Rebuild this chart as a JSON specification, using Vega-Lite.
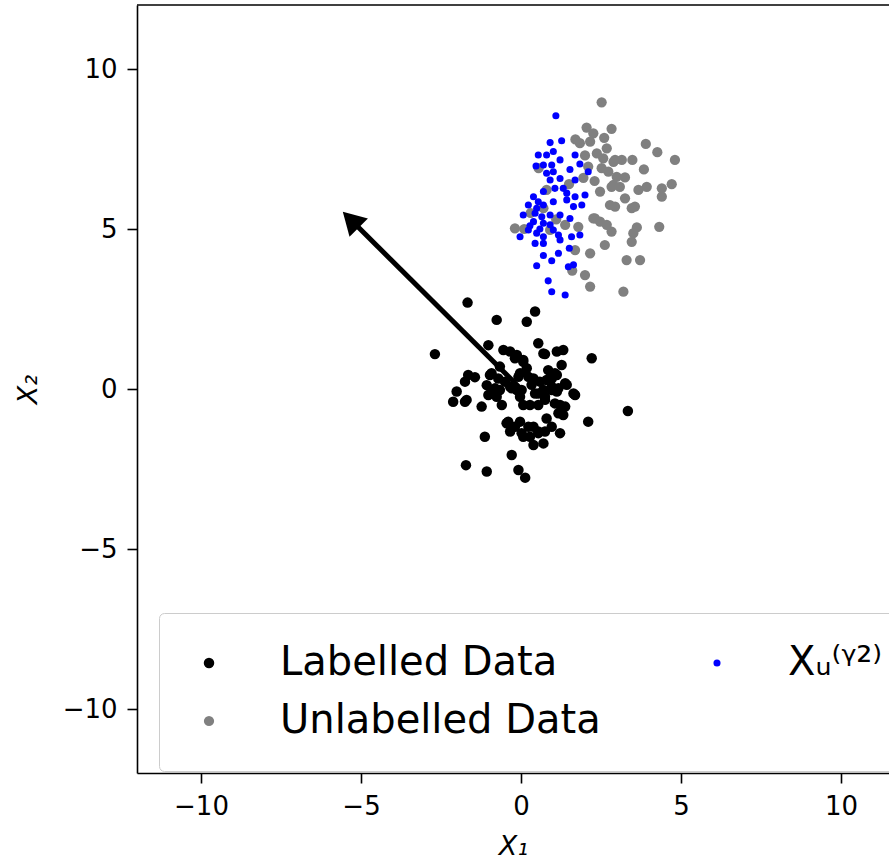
{
  "$schema": "https://vega.github.io/schema/vega-lite/v6.json",
  "width": 752,
  "height": 768,
  "autosize": {"type": "none"},
  "padding": {"left": 137, "top": 5, "right": 0, "bottom": 89},
  "background": "white",
  "config": {
    "view": {"stroke": null},
    "font": "DejaVu Sans",
    "axis": {
      "grid": false,
      "domainColor": "black",
      "domainWidth": 1.6,
      "tickColor": "black",
      "tickWidth": 1.6,
      "tickSize": 10,
      "labelPadding": 10,
      "labelFontSize": 26,
      "labelColor": "black",
      "labelFont": "DejaVu Sans",
      "titleFont": "DejaVu Sans",
      "titleFontSize": 27,
      "titleFontWeight": "normal",
      "titleFontStyle": "italic",
      "titleColor": "black"
    }
  },
  "datasets": {
    "points": [
      {"set": "Labelled Data", "x1": -1.67, "x2": 2.70},
      {"set": "Labelled Data", "x1": -0.76, "x2": 2.16},
      {"set": "Labelled Data", "x1": 0.44, "x2": 2.42},
      {"set": "Labelled Data", "x1": 0.18, "x2": 2.10},
      {"set": "Labelled Data", "x1": -2.69, "x2": 1.09},
      {"set": "Labelled Data", "x1": 2.21, "x2": 0.96},
      {"set": "Labelled Data", "x1": -1.02, "x2": 1.37},
      {"set": "Labelled Data", "x1": 0.54, "x2": 1.43},
      {"set": "Labelled Data", "x1": -0.55, "x2": 1.22},
      {"set": "Labelled Data", "x1": -0.34, "x2": 1.17},
      {"set": "Labelled Data", "x1": -0.13, "x2": 1.06},
      {"set": "Labelled Data", "x1": 0.75, "x2": 1.09},
      {"set": "Labelled Data", "x1": 1.12, "x2": 1.17},
      {"set": "Labelled Data", "x1": 1.32, "x2": 1.22},
      {"set": "Labelled Data", "x1": 1.27, "x2": 0.75},
      {"set": "Labelled Data", "x1": 0.07, "x2": 0.85},
      {"set": "Labelled Data", "x1": 0.18, "x2": 0.65},
      {"set": "Labelled Data", "x1": 0.85, "x2": 0.59},
      {"set": "Labelled Data", "x1": 1.06, "x2": 0.49},
      {"set": "Labelled Data", "x1": -0.92, "x2": 0.49},
      {"set": "Labelled Data", "x1": -0.66, "x2": 0.70},
      {"set": "Labelled Data", "x1": -1.65, "x2": 0.44},
      {"set": "Labelled Data", "x1": -1.44, "x2": 0.37},
      {"set": "Labelled Data", "x1": -1.75, "x2": 0.23},
      {"set": "Labelled Data", "x1": -0.03, "x2": 0.49},
      {"set": "Labelled Data", "x1": 0.39, "x2": 0.33},
      {"set": "Labelled Data", "x1": 0.59, "x2": 0.23},
      {"set": "Labelled Data", "x1": 0.80, "x2": 0.28},
      {"set": "Labelled Data", "x1": 1.43, "x2": 0.13},
      {"set": "Labelled Data", "x1": 1.69, "x2": -0.19},
      {"set": "Labelled Data", "x1": -1.07, "x2": 0.12},
      {"set": "Labelled Data", "x1": -0.92, "x2": -0.03},
      {"set": "Labelled Data", "x1": -1.02, "x2": -0.19},
      {"set": "Labelled Data", "x1": -0.66, "x2": -0.03},
      {"set": "Labelled Data", "x1": -0.76, "x2": -0.24},
      {"set": "Labelled Data", "x1": -0.60, "x2": -0.50},
      {"set": "Labelled Data", "x1": -0.34, "x2": 0.07},
      {"set": "Labelled Data", "x1": -0.13, "x2": -0.03},
      {"set": "Labelled Data", "x1": -0.03, "x2": -0.24},
      {"set": "Labelled Data", "x1": -2.01, "x2": -0.08},
      {"set": "Labelled Data", "x1": -2.12, "x2": -0.40},
      {"set": "Labelled Data", "x1": -1.75, "x2": -0.40},
      {"set": "Labelled Data", "x1": -1.23, "x2": -0.55},
      {"set": "Labelled Data", "x1": 0.07, "x2": -0.50},
      {"set": "Labelled Data", "x1": 0.28, "x2": -0.50},
      {"set": "Labelled Data", "x1": 0.54, "x2": -0.14},
      {"set": "Labelled Data", "x1": 0.75, "x2": -0.24},
      {"set": "Labelled Data", "x1": 0.70, "x2": -0.03},
      {"set": "Labelled Data", "x1": 0.96, "x2": 0.07},
      {"set": "Labelled Data", "x1": 1.12, "x2": -0.08},
      {"set": "Labelled Data", "x1": 1.22, "x2": -0.50},
      {"set": "Labelled Data", "x1": 1.17, "x2": -0.76},
      {"set": "Labelled Data", "x1": 1.32, "x2": -0.81},
      {"set": "Labelled Data", "x1": 2.10, "x2": -1.02},
      {"set": "Labelled Data", "x1": 0.80, "x2": -0.92},
      {"set": "Labelled Data", "x1": -0.45, "x2": -1.07},
      {"set": "Labelled Data", "x1": -0.34, "x2": -1.33},
      {"set": "Labelled Data", "x1": -0.03, "x2": -1.02},
      {"set": "Labelled Data", "x1": 0.07, "x2": -1.49},
      {"set": "Labelled Data", "x1": 0.39, "x2": -1.18},
      {"set": "Labelled Data", "x1": 0.54, "x2": -1.38},
      {"set": "Labelled Data", "x1": 0.75, "x2": -1.33},
      {"set": "Labelled Data", "x1": 0.39, "x2": -1.75},
      {"set": "Labelled Data", "x1": 0.70, "x2": -1.70},
      {"set": "Labelled Data", "x1": 1.22, "x2": -1.38},
      {"set": "Labelled Data", "x1": -1.13, "x2": -1.49},
      {"set": "Labelled Data", "x1": -0.29, "x2": -2.06},
      {"set": "Labelled Data", "x1": -1.72, "x2": -2.38},
      {"set": "Labelled Data", "x1": -1.07, "x2": -2.58},
      {"set": "Labelled Data", "x1": -0.08, "x2": -2.53},
      {"set": "Labelled Data", "x1": 0.13, "x2": -2.77},
      {"set": "Labelled Data", "x1": 3.34, "x2": -0.69},
      {"set": "Labelled Data", "x1": 0.70, "x2": 1.11},
      {"set": "Labelled Data", "x1": -0.19, "x2": 0.96},
      {"set": "Labelled Data", "x1": 0.07, "x2": 0.91},
      {"set": "Labelled Data", "x1": -0.97, "x2": 0.44},
      {"set": "Labelled Data", "x1": -0.71, "x2": 0.33},
      {"set": "Labelled Data", "x1": -0.50, "x2": 0.23},
      {"set": "Labelled Data", "x1": -0.08, "x2": 0.38},
      {"set": "Labelled Data", "x1": 0.23, "x2": 0.38},
      {"set": "Labelled Data", "x1": 0.96, "x2": 0.33},
      {"set": "Labelled Data", "x1": 1.12, "x2": 0.44},
      {"set": "Labelled Data", "x1": 1.38, "x2": 0.18},
      {"set": "Labelled Data", "x1": -0.81, "x2": 0.02},
      {"set": "Labelled Data", "x1": -0.29, "x2": 0.02},
      {"set": "Labelled Data", "x1": 0.02, "x2": -0.03},
      {"set": "Labelled Data", "x1": 0.33, "x2": 0.13},
      {"set": "Labelled Data", "x1": 0.44, "x2": -0.14},
      {"set": "Labelled Data", "x1": 0.96, "x2": -0.03},
      {"set": "Labelled Data", "x1": 1.17, "x2": 0.02},
      {"set": "Labelled Data", "x1": 1.64, "x2": -0.14},
      {"set": "Labelled Data", "x1": -1.70, "x2": -0.34},
      {"set": "Labelled Data", "x1": 0.54, "x2": -0.50},
      {"set": "Labelled Data", "x1": 0.75, "x2": -0.34},
      {"set": "Labelled Data", "x1": 1.06, "x2": -0.45},
      {"set": "Labelled Data", "x1": 1.38, "x2": -0.55},
      {"set": "Labelled Data", "x1": -0.40, "x2": -1.02},
      {"set": "Labelled Data", "x1": -0.19, "x2": -1.18},
      {"set": "Labelled Data", "x1": 0.23, "x2": -1.18},
      {"set": "Labelled Data", "x1": 0.96, "x2": -1.18},
      {"set": "Labelled Data", "x1": 0.02, "x2": -1.38},
      {"set": "Labelled Data", "x1": 0.28, "x2": -1.49},
      {"set": "Labelled Data", "x1": 0.54, "x2": -1.33},

      {"set": "Unlabelled Data", "x1": 2.52, "x2": 8.96},
      {"set": "Unlabelled Data", "x1": 2.05, "x2": 8.17},
      {"set": "Unlabelled Data", "x1": 2.26, "x2": 7.99},
      {"set": "Unlabelled Data", "x1": 2.83, "x2": 8.13},
      {"set": "Unlabelled Data", "x1": 1.84, "x2": 7.68},
      {"set": "Unlabelled Data", "x1": 2.16, "x2": 7.73},
      {"set": "Unlabelled Data", "x1": 2.37, "x2": 7.36},
      {"set": "Unlabelled Data", "x1": 2.68, "x2": 7.52},
      {"set": "Unlabelled Data", "x1": 2.94, "x2": 7.16},
      {"set": "Unlabelled Data", "x1": 3.15, "x2": 7.16},
      {"set": "Unlabelled Data", "x1": 3.90, "x2": 7.66},
      {"set": "Unlabelled Data", "x1": 4.26, "x2": 7.40},
      {"set": "Unlabelled Data", "x1": 4.81, "x2": 7.16},
      {"set": "Unlabelled Data", "x1": 3.48, "x2": 7.16},
      {"set": "Unlabelled Data", "x1": 3.84, "x2": 6.86},
      {"set": "Unlabelled Data", "x1": 2.52, "x2": 6.90},
      {"set": "Unlabelled Data", "x1": 2.73, "x2": 6.79},
      {"set": "Unlabelled Data", "x1": 2.99, "x2": 6.63},
      {"set": "Unlabelled Data", "x1": 3.25, "x2": 6.61},
      {"set": "Unlabelled Data", "x1": 2.89, "x2": 6.38},
      {"set": "Unlabelled Data", "x1": 2.47, "x2": 6.17},
      {"set": "Unlabelled Data", "x1": 3.67, "x2": 6.22},
      {"set": "Unlabelled Data", "x1": 3.93, "x2": 6.32},
      {"set": "Unlabelled Data", "x1": 4.40, "x2": 6.27},
      {"set": "Unlabelled Data", "x1": 4.71, "x2": 6.40},
      {"set": "Unlabelled Data", "x1": 4.40, "x2": 6.01},
      {"set": "Unlabelled Data", "x1": 3.25, "x2": 5.96},
      {"set": "Unlabelled Data", "x1": 2.78, "x2": 5.75},
      {"set": "Unlabelled Data", "x1": 2.94, "x2": 5.70},
      {"set": "Unlabelled Data", "x1": 3.46, "x2": 5.65},
      {"set": "Unlabelled Data", "x1": 3.56, "x2": 5.70},
      {"set": "Unlabelled Data", "x1": 2.31, "x2": 5.33},
      {"set": "Unlabelled Data", "x1": 2.47, "x2": 5.23},
      {"set": "Unlabelled Data", "x1": 2.68, "x2": 5.13},
      {"set": "Unlabelled Data", "x1": 2.83, "x2": 4.92},
      {"set": "Unlabelled Data", "x1": 3.62, "x2": 5.05},
      {"set": "Unlabelled Data", "x1": 3.51, "x2": 4.87},
      {"set": "Unlabelled Data", "x1": 3.46, "x2": 4.60},
      {"set": "Unlabelled Data", "x1": 4.32, "x2": 5.07},
      {"set": "Unlabelled Data", "x1": 2.62, "x2": 4.50},
      {"set": "Unlabelled Data", "x1": 2.16, "x2": 4.24},
      {"set": "Unlabelled Data", "x1": 3.30, "x2": 4.03},
      {"set": "Unlabelled Data", "x1": 3.72, "x2": 4.03},
      {"set": "Unlabelled Data", "x1": 2.00, "x2": 3.56},
      {"set": "Unlabelled Data", "x1": 2.16, "x2": 3.20},
      {"set": "Unlabelled Data", "x1": 3.20, "x2": 3.04},
      {"set": "Unlabelled Data", "x1": -0.19, "x2": 5.02},
      {"set": "Unlabelled Data", "x1": 1.79, "x2": 5.07},
      {"set": "Unlabelled Data", "x1": 0.80, "x2": 6.22},
      {"set": "Unlabelled Data", "x1": 0.91, "x2": 4.97},
      {"set": "Unlabelled Data", "x1": 1.38, "x2": 5.13},
      {"set": "Unlabelled Data", "x1": 2.57, "x2": 7.21},
      {"set": "Unlabelled Data", "x1": 2.89, "x2": 7.10},
      {"set": "Unlabelled Data", "x1": 2.83, "x2": 6.32},
      {"set": "Unlabelled Data", "x1": 3.09, "x2": 6.32},
      {"set": "Unlabelled Data", "x1": 2.10, "x2": 6.95},
      {"set": "Unlabelled Data", "x1": 1.95, "x2": 6.60},
      {"set": "Unlabelled Data", "x1": 2.00, "x2": 7.30},
      {"set": "Unlabelled Data", "x1": 1.70, "x2": 7.80},
      {"set": "Unlabelled Data", "x1": 2.60, "x2": 7.85},
      {"set": "Unlabelled Data", "x1": 0.10, "x2": 5.00},
      {"set": "Unlabelled Data", "x1": 1.60, "x2": 3.70},
      {"set": "Unlabelled Data", "x1": 2.30, "x2": 6.50},
      {"set": "Unlabelled Data", "x1": 2.26, "x2": 5.33},
      {"set": "Unlabelled Data", "x1": 1.69, "x2": 4.34},
      {"set": "Unlabelled Data", "x1": 0.55, "x2": 6.90},
      {"set": "Unlabelled Data", "x1": 1.10, "x2": 5.30},
      {"set": "Unlabelled Data", "x1": 0.30, "x2": 5.50},
      {"set": "Unlabelled Data", "x1": 1.50, "x2": 6.40},
      {"set": "Unlabelled Data", "x1": 0.70, "x2": 5.65},

      {"set": "Xᵤ⁽ᵞ²⁾", "x1": 1.09, "x2": 8.54},
      {"set": "Xᵤ⁽ᵞ²⁾", "x1": 0.91, "x2": 7.70},
      {"set": "Xᵤ⁽ᵞ²⁾", "x1": 1.27, "x2": 7.76},
      {"set": "Xᵤ⁽ᵞ²⁾", "x1": 0.54, "x2": 7.31},
      {"set": "Xᵤ⁽ᵞ²⁾", "x1": 0.80, "x2": 7.31},
      {"set": "Xᵤ⁽ᵞ²⁾", "x1": 1.01, "x2": 7.42},
      {"set": "Xᵤ⁽ᵞ²⁾", "x1": 0.47, "x2": 6.97},
      {"set": "Xᵤ⁽ᵞ²⁾", "x1": 0.70, "x2": 7.00},
      {"set": "Xᵤ⁽ᵞ²⁾", "x1": 1.22, "x2": 7.16},
      {"set": "Xᵤ⁽ᵞ²⁾", "x1": 1.69, "x2": 7.31},
      {"set": "Xᵤ⁽ᵞ²⁾", "x1": 1.53, "x2": 6.86},
      {"set": "Xᵤ⁽ᵞ²⁾", "x1": 1.84, "x2": 7.03},
      {"set": "Xᵤ⁽ᵞ²⁾", "x1": 2.10, "x2": 6.79},
      {"set": "Xᵤ⁽ᵞ²⁾", "x1": 0.80, "x2": 6.74},
      {"set": "Xᵤ⁽ᵞ²⁾", "x1": 1.01, "x2": 6.79},
      {"set": "Xᵤ⁽ᵞ²⁾", "x1": 1.22, "x2": 6.58},
      {"set": "Xᵤ⁽ᵞ²⁾", "x1": 0.91, "x2": 6.53},
      {"set": "Xᵤ⁽ᵞ²⁾", "x1": 1.69, "x2": 6.53},
      {"set": "Xᵤ⁽ᵞ²⁾", "x1": 1.06, "x2": 6.27},
      {"set": "Xᵤ⁽ᵞ²⁾", "x1": 1.32, "x2": 6.27},
      {"set": "Xᵤ⁽ᵞ²⁾", "x1": 1.43, "x2": 6.12},
      {"set": "Xᵤ⁽ᵞ²⁾", "x1": 0.39, "x2": 6.01},
      {"set": "Xᵤ⁽ᵞ²⁾", "x1": 0.54, "x2": 5.85},
      {"set": "Xᵤ⁽ᵞ²⁾", "x1": 0.23, "x2": 5.75},
      {"set": "Xᵤ⁽ᵞ²⁾", "x1": 0.70, "x2": 5.75},
      {"set": "Xᵤ⁽ᵞ²⁾", "x1": 1.01, "x2": 5.85},
      {"set": "Xᵤ⁽ᵞ²⁾", "x1": 1.43, "x2": 5.91},
      {"set": "Xᵤ⁽ᵞ²⁾", "x1": 1.69, "x2": 6.01},
      {"set": "Xᵤ⁽ᵞ²⁾", "x1": 2.00, "x2": 6.06},
      {"set": "Xᵤ⁽ᵞ²⁾", "x1": 1.90, "x2": 5.75},
      {"set": "Xᵤ⁽ᵞ²⁾", "x1": 1.64, "x2": 5.70},
      {"set": "Xᵤ⁽ᵞ²⁾", "x1": 0.07, "x2": 5.44},
      {"set": "Xᵤ⁽ᵞ²⁾", "x1": 0.44, "x2": 5.49},
      {"set": "Xᵤ⁽ᵞ²⁾", "x1": 0.65, "x2": 5.38},
      {"set": "Xᵤ⁽ᵞ²⁾", "x1": 0.91, "x2": 5.44},
      {"set": "Xᵤ⁽ᵞ²⁾", "x1": 1.22, "x2": 5.44},
      {"set": "Xᵤ⁽ᵞ²⁾", "x1": 1.53, "x2": 5.33},
      {"set": "Xᵤ⁽ᵞ²⁾", "x1": 0.39, "x2": 5.23},
      {"set": "Xᵤ⁽ᵞ²⁾", "x1": 0.70, "x2": 5.18},
      {"set": "Xᵤ⁽ᵞ²⁾", "x1": -0.03, "x2": 4.76},
      {"set": "Xᵤ⁽ᵞ²⁾", "x1": 0.23, "x2": 4.97},
      {"set": "Xᵤ⁽ᵞ²⁾", "x1": 0.49, "x2": 4.87},
      {"set": "Xᵤ⁽ᵞ²⁾", "x1": 0.70, "x2": 4.76},
      {"set": "Xᵤ⁽ᵞ²⁾", "x1": 1.01, "x2": 4.97},
      {"set": "Xᵤ⁽ᵞ²⁾", "x1": 1.17, "x2": 4.81},
      {"set": "Xᵤ⁽ᵞ²⁾", "x1": 1.58, "x2": 4.76},
      {"set": "Xᵤ⁽ᵞ²⁾", "x1": 1.84, "x2": 4.81},
      {"set": "Xᵤ⁽ᵞ²⁾", "x1": 0.44, "x2": 4.55},
      {"set": "Xᵤ⁽ᵞ²⁾", "x1": 0.70, "x2": 4.55},
      {"set": "Xᵤ⁽ᵞ²⁾", "x1": 1.22, "x2": 4.66},
      {"set": "Xᵤ⁽ᵞ²⁾", "x1": 1.51, "x2": 4.40},
      {"set": "Xᵤ⁽ᵞ²⁾", "x1": 0.70, "x2": 4.17},
      {"set": "Xᵤ⁽ᵞ²⁾", "x1": 1.17, "x2": 4.24},
      {"set": "Xᵤ⁽ᵞ²⁾", "x1": 0.96, "x2": 4.01},
      {"set": "Xᵤ⁽ᵞ²⁾", "x1": 0.49, "x2": 3.85},
      {"set": "Xᵤ⁽ᵞ²⁾", "x1": 1.48, "x2": 3.82},
      {"set": "Xᵤ⁽ᵞ²⁾", "x1": 1.64, "x2": 3.88},
      {"set": "Xᵤ⁽ᵞ²⁾", "x1": 0.85, "x2": 3.38},
      {"set": "Xᵤ⁽ᵞ²⁾", "x1": 0.96, "x2": 3.04},
      {"set": "Xᵤ⁽ᵞ²⁾", "x1": 1.38, "x2": 2.94},
      {"set": "Xᵤ⁽ᵞ²⁾", "x1": 0.96, "x2": 7.00},
      {"set": "Xᵤ⁽ᵞ²⁾", "x1": 0.70, "x2": 6.17},
      {"set": "Xᵤ⁽ᵞ²⁾", "x1": 0.49, "x2": 5.65},
      {"set": "Xᵤ⁽ᵞ²⁾", "x1": 0.91, "x2": 5.13},
      {"set": "Xᵤ⁽ᵞ²⁾", "x1": 0.59, "x2": 5.00},
      {"set": "Xᵤ⁽ᵞ²⁾", "x1": 0.28, "x2": 5.10}
    ],
    "arrow": [
      {"x_start": 0, "y_start": 0, "x_end": -5.2, "y_end": 5.17, "x_head": -5.32, "y_head": 5.29}
    ]
  },
  "layer": [
    {
      "data": {"name": "points"},
      "mark": {"type": "circle", "opacity": 1},
      "encoding": {
        "x": {
          "field": "x1",
          "type": "quantitative",
          "scale": {"domain": [-12, 11.5], "nice": false, "zero": false},
          "axis": {"values": [-10, -5, 0, 5, 10], "title": "X₁", "titlePadding": 14}
        },
        "y": {
          "field": "x2",
          "type": "quantitative",
          "scale": {"domain": [-12, 12], "nice": false, "zero": false},
          "axis": {"values": [-10, -5, 0, 5, 10], "title": "X₂", "titlePadding": 20}
        },
        "color": {
          "field": "set",
          "type": "nominal",
          "scale": {"domain": ["Labelled Data", "Unlabelled Data", "Xᵤ⁽ᵞ²⁾"], "range": ["#000000", "#808080", "#0000ff"]},
          "legend": {
            "title": null,
            "orient": "none",
            "legendX": 22,
            "legendY": 608,
            "columns": 2,
            "columnPadding": 96,
            "rowPadding": 18,
            "padding": 30,
            "labelFontSize": 40,
            "labelFont": "DejaVu Sans",
            "labelColor": "black",
            "labelOffset": 51,
            "labelLimit": 500,
            "strokeColor": "#cccccc",
            "fillColor": "white",
            "cornerRadius": 5,
            "symbolType": "circle"
          }
        },
        "size": {
          "field": "set",
          "type": "nominal",
          "scale": {"type": "ordinal", "domain": ["Labelled Data", "Unlabelled Data", "Xᵤ⁽ᵞ²⁾"], "range": [110, 105, 50]},
          "legend": {
            "title": null,
            "orient": "none",
            "legendX": 22,
            "legendY": 608,
            "columns": 2,
            "columnPadding": 96,
            "rowPadding": 18,
            "padding": 30,
            "labelFontSize": 40,
            "labelFont": "DejaVu Sans",
            "labelColor": "black",
            "labelOffset": 51,
            "labelLimit": 500,
            "strokeColor": "#cccccc",
            "fillColor": "white",
            "cornerRadius": 5,
            "symbolType": "circle"
          }
        },
        "order": {"field": "set", "sort": "ascending"}
      }
    },
    {
      "data": {"name": "arrow"},
      "mark": {"type": "rule", "strokeWidth": 5, "color": "black"},
      "encoding": {
        "x": {"field": "x_start", "type": "quantitative"},
        "y": {"field": "y_start", "type": "quantitative"},
        "x2": {"field": "x_end"},
        "y2": {"field": "y_end"}
      }
    },
    {
      "data": {"name": "arrow"},
      "mark": {"type": "point", "shape": "triangle-up", "filled": true, "color": "black", "opacity": 1, "size": 676, "angle": 315},
      "encoding": {
        "x": {"field": "x_head", "type": "quantitative"},
        "y": {"field": "y_head", "type": "quantitative"}
      }
    },
    {
      "data": {"values": [{}]},
      "mark": {"type": "rule", "color": "black", "strokeWidth": 1.6},
      "encoding": {"y": {"datum": 12}}
    }
  ]
}
